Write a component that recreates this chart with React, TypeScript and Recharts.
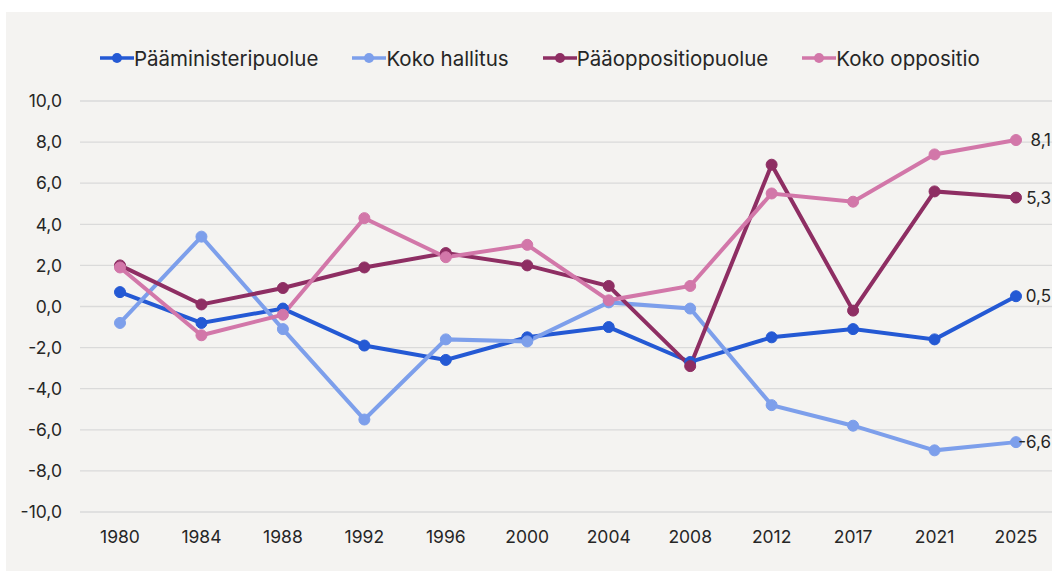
import React from "react";
import { LineChart, Line, XAxis, YAxis, CartesianGrid, LabelList } from "recharts";

const years = ["1980", "1984", "1988", "1992", "1996", "2000", "2004", "2008", "2012", "2017", "2021", "2025"];
const paaministeripuolue = [0.7, -0.8, -0.1, -1.9, -2.6, -1.5, -1.0, -2.7, -1.5, -1.1, -1.6, 0.5];
const kokoHallitus = [-0.8, 3.4, -1.1, -5.5, -1.6, -1.7, 0.2, -0.1, -4.8, -5.8, -7.0, -6.6];
const paaoppositiopuolue = [2.0, 0.1, 0.9, 1.9, 2.6, 2.0, 1.0, -2.9, 6.9, -0.2, 5.6, 5.3];
const kokoOppositio = [1.9, -1.4, -0.4, 4.3, 2.4, 3.0, 0.3, 1.0, 5.5, 5.1, 7.4, 8.1];
const yTicks = [-10, -8, -6, -4, -2, 0, 2, 4, 6, 8, 10];

const series = [
  { key: "pm", name: "Pääministeripuolue", color: "#2459d4", values: paaministeripuolue },
  { key: "kh", name: "Koko hallitus", color: "#7d9feb", values: kokoHallitus },
  { key: "po", name: "Pääoppositiopuolue", color: "#8e2e63", values: paaoppositiopuolue },
  { key: "ko", name: "Koko oppositio", color: "#d277a9", values: kokoOppositio },
];

const data = years.map((y, i) => {
  const row: any = { year: y };
  series.forEach((s) => (row[s.key] = s.values[i]));
  return row;
});

const fmt = (v: number) => v.toFixed(1).replace(".", ",");
const FONT = "Inter, 'Noto Sans', sans-serif";
const TEXT = "#262626";

const EndLabel = (props: any) => {
  const { x, y, value, index } = props;
  if (index !== years.length - 1) return null;
  return (
    <text x={x + 35} y={y} textAnchor="end" dominantBaseline="central" fontSize={17} fill={TEXT} fontFamily={FONT}>
      {fmt(value)}
    </text>
  );
};

export default function App() {
  return (
    <div style={{ position: "absolute", left: 0, top: 0, width: 1052, height: 572, background: "#ffffff", fontFamily: FONT }}>
      <div style={{ position: "absolute", left: 6, top: 12, width: 1046, height: 559, background: "#f4f3f1" }} />
      <div style={{ position: "absolute", left: 100, top: 46, height: 24, display: "flex", alignItems: "center" }}>
        {series.map((s, i) => (
          <div key={s.key} style={{ display: "flex", alignItems: "center", marginRight: i < 3 ? 34 : 0 }}>
            <svg width={34} height={14} style={{ display: "block" }}>
              <line x1={0} y1={7} x2={34} y2={7} stroke={s.color} strokeWidth={3.5} />
              <circle cx={17} cy={7} r={5} fill={s.color} />
            </svg>
            <span style={{ fontSize: 20.5, color: TEXT, whiteSpace: "nowrap" }}>{s.name}</span>
          </div>
        ))}
      </div>
      <div style={{ position: "absolute", left: 0, top: 0 }}>
        <LineChart width={1052} height={572} data={data} margin={{ top: 101, right: 0, bottom: 30, left: 20 }}>
          <CartesianGrid vertical={false} stroke="#dadada" strokeWidth={1.3} />
          <XAxis
            dataKey="year"
            axisLine={false}
            tickLine={false}
            padding={{ left: 40, right: 36 }}
            tickSize={0}
            tickMargin={19}
            height={30}
            tick={{ fontSize: 17.5, fill: TEXT, fontFamily: FONT }}
            interval={0}
          />
          <YAxis
            width={60}
            domain={[-10, 10]}
            ticks={yTicks}
            axisLine={false}
            tickLine={false}
            tickSize={0}
            tickMargin={18}
            tickFormatter={fmt}
            tick={{ fontSize: 17.5, fill: TEXT, fontFamily: FONT }}
          />
          {series.map((s) => (
            <Line
              key={s.key}
              dataKey={s.key}
              name={s.name}
              stroke={s.color}
              strokeWidth={4}
              dot={{ r: 5.5, fill: s.color, stroke: s.color, strokeWidth: 1 }}
              activeDot={false}
              isAnimationActive={false}
            >
              <LabelList dataKey={s.key} content={<EndLabel />} />
            </Line>
          ))}
        </LineChart>
      </div>
    </div>
  );
}
